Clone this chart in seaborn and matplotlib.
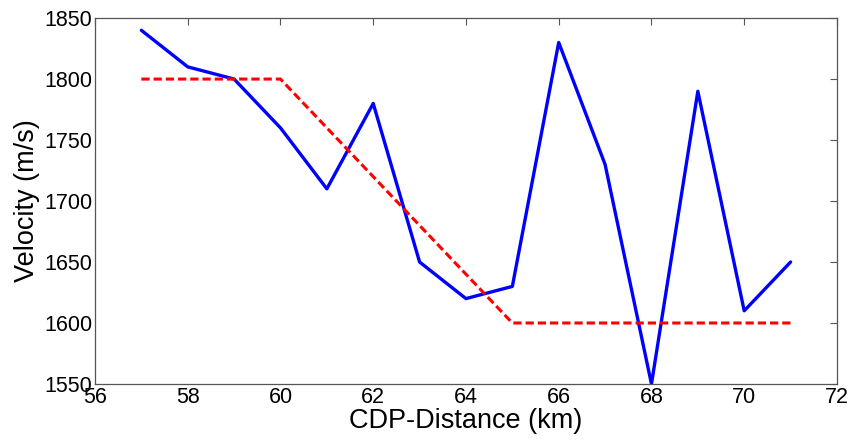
import matplotlib
matplotlib.use("Agg")
import matplotlib.pyplot as plt
import seaborn as sns
import pandas as pd

cdp = [57, 58, 59, 60, 61, 62, 63, 64, 65, 66, 67, 68, 69, 70, 71]
velocity_est = [1840, 1810, 1800, 1760, 1710, 1780, 1650, 1620, 1630, 1830, 1730, 1550, 1790, 1610, 1650]
model_x = [57, 60, 65, 71]
velocity_true = [1800, 1800, 1600, 1600]
xticks = [56, 58, 60, 62, 64, 66, 68, 70, 72]
yticks = [1550, 1600, 1650, 1700, 1750, 1800, 1850]

sns.set_theme(style="white")
plt.rcParams['font.family'] = ['Liberation Sans', 'DejaVu Sans']

df1 = pd.DataFrame({"x": cdp, "v": velocity_est})
df2 = pd.DataFrame({"x": model_x, "v": velocity_true})

fig = plt.figure(figsize=(8.51, 4.41), dpi=100)
ax = fig.add_axes([0.1116, 0.1293, 0.8719, 0.8297])
sns.lineplot(data=df1, x="x", y="v", ax=ax, color="#0000ff", linewidth=2.4)
sns.lineplot(data=df2, x="x", y="v", ax=ax, color="#ff0000", linewidth=2.2, linestyle=(0, (2.7, 1.3)))

ax.set_xlim(56, 72)
ax.set_ylim(1550, 1850)
ax.set_xticks(xticks)
ax.set_yticks(yticks)
ax.tick_params(direction="in", top=True, right=True, length=5, width=0.8, color="#555555",
               labelsize=15.5, labelcolor="black", pad=2)
for s in ax.spines.values():
    s.set_color("#555555")
    s.set_linewidth(0.9)
ax.set_xlabel("CDP-Distance (km)", fontsize=19.5, color="black", labelpad=0)
ax.set_ylabel("Velocity (m/s)", fontsize=19.5, color="black", labelpad=3)
fig.savefig("out.png", dpi=100)
